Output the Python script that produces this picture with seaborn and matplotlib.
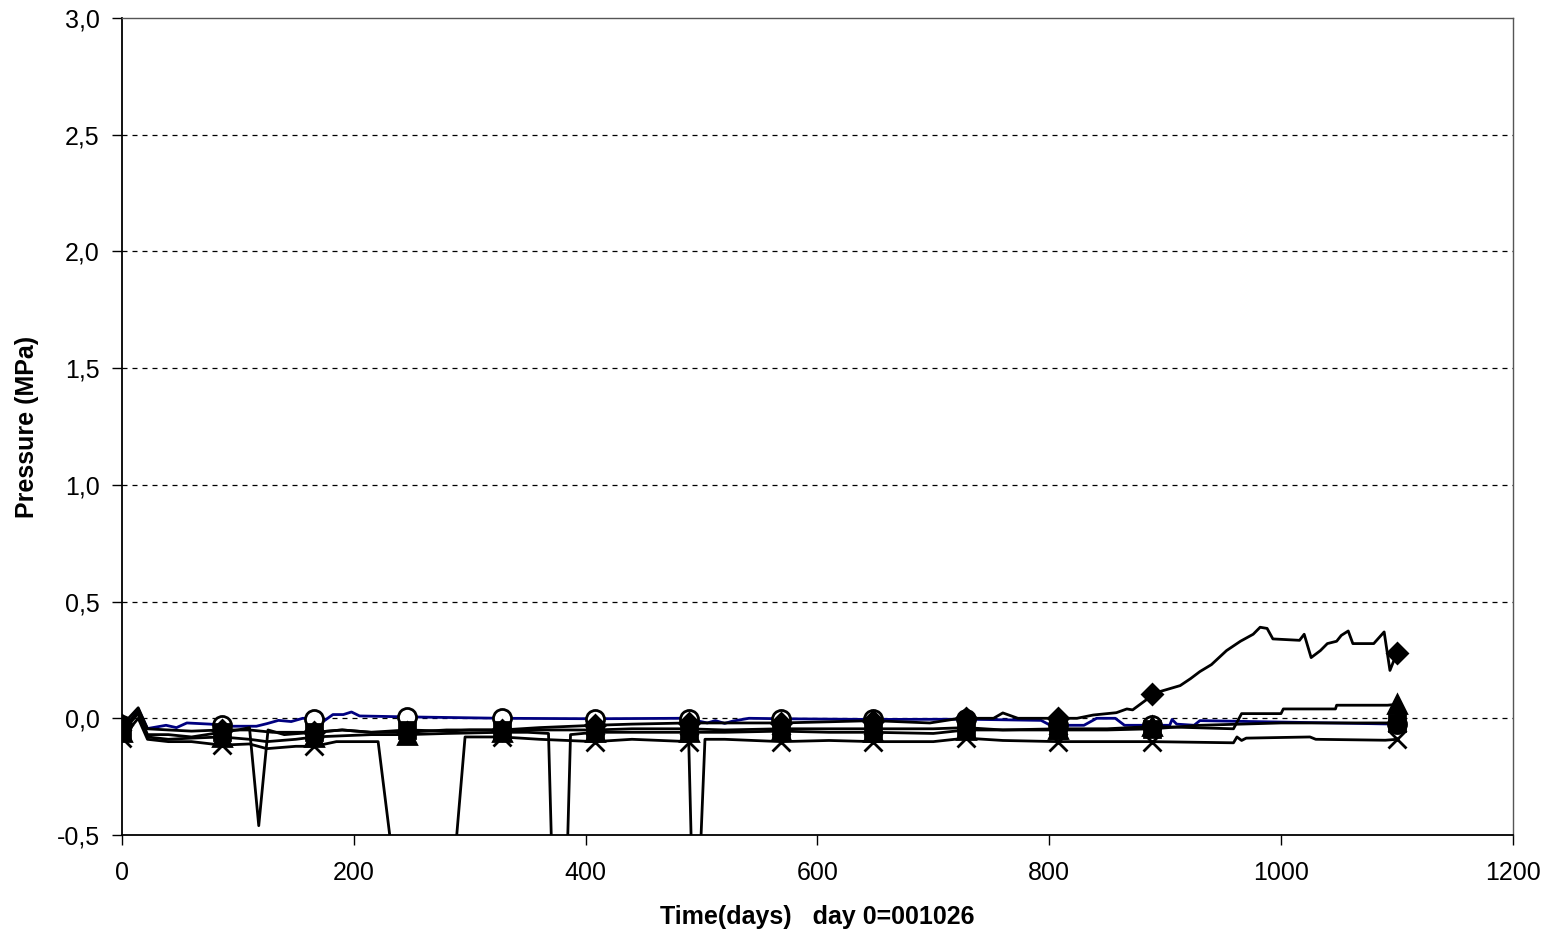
import numpy as np
import pandas as pd
import matplotlib
matplotlib.use("Agg")
import matplotlib.pyplot as plt
import seaborn as sns
from matplotlib.ticker import FuncFormatter

# ---------------- data ----------------
marker_days = [0, 86, 166, 246, 328, 408, 489, 569, 648, 728, 808, 889, 1100]

circle_days = [0, 4, 14, 22, 38, 47, 56, 76, 86, 96, 116, 125, 135, 146, 156, 166, 171, 182, 191, 198,
               205, 246, 328, 408, 481, 489, 505, 512, 520, 527, 541, 569, 648, 728, 793, 801, 808, 830,
               841, 857, 865, 889, 904, 906, 910, 925, 930, 1100]
circle_vals = [-0.03, -0.037, 0.04, -0.044, -0.03, -0.04, -0.02, -0.025, -0.03, -0.034, -0.034, -0.023,
               -0.009, -0.014, 0.0, -0.003, -0.023, 0.016, 0.016, 0.027,
               0.01, 0.006, 0.0, -0.002, 0.0, -0.003, -0.02, -0.01, -0.022, -0.012, 0.0, -0.002, -0.005,
               -0.004, -0.009, -0.03, -0.03, -0.03,
               0.0, 0.0, -0.03, -0.03, -0.03, -0.005, -0.025, -0.03, -0.01, -0.025]

x_days = [0, 14, 22, 40, 60, 86, 110, 125, 150, 166, 185, 221, 236, 282, 296, 328, 360, 408, 440, 489,
          492, 498, 503, 520, 569, 610, 648, 700, 728, 760, 808, 889, 959, 962, 966, 970, 1025, 1030,
          1090, 1100]
x_vals = [-0.085, 0.0, -0.09, -0.1, -0.1, -0.115, -0.11, -0.13, -0.12, -0.12, -0.1, -0.1, -0.7, -0.9,
          -0.08, -0.08, -0.09, -0.1, -0.09, -0.1,
          -0.7, -0.7, -0.09, -0.09, -0.1, -0.095, -0.1, -0.1, -0.085, -0.095, -0.1, -0.1, -0.105, -0.08,
          -0.095, -0.085, -0.08, -0.09, -0.094, -0.09]

tri_days = [0, 14, 22, 40, 60, 86, 110, 125, 150, 166, 190, 215, 246, 280, 328, 350, 368, 372, 383, 387,
            408, 440, 489, 520, 569, 610, 648, 700, 728, 760, 808, 850, 889, 959, 966, 1000, 1002, 1047,
            1048, 1092, 1100]
tri_vals = [-0.06, 0.02, -0.08, -0.09, -0.085, -0.08, -0.09, -0.1, -0.09, -0.08, -0.075, -0.07, -0.07,
            -0.065, -0.06, -0.06, -0.065, -0.8, -0.8, -0.07,
            -0.06, -0.06, -0.06, -0.06, -0.055, -0.06, -0.06, -0.065, -0.05, -0.05, -0.045, -0.045,
            -0.035, -0.045, 0.02, 0.02, 0.04, 0.04,
            0.056, 0.056, 0.06]

sq_days = [0, 14, 22, 40, 60, 86, 100, 110, 118, 126, 140, 166, 190, 215, 246, 280, 300, 328, 360, 408,
           440, 489, 520, 569, 610, 648, 700, 728, 760, 808, 850, 889, 930, 1000, 1050, 1100]
sq_vals = [-0.05, 0.03, -0.07, -0.07, -0.08, -0.06, -0.05, -0.04, -0.46, -0.05, -0.07, -0.06, -0.05,
           -0.06, -0.05, -0.055, -0.05, -0.05, -0.05, -0.05,
           -0.045, -0.045, -0.05, -0.045, -0.045, -0.045, -0.045, -0.04, -0.05, -0.05, -0.05, -0.045,
           -0.03, -0.02, -0.02, -0.02]

dia_days = [0, 14, 22, 40, 60, 86, 110, 130, 150, 166, 190, 215, 246, 280, 328, 360, 408, 440, 489, 520,
            569, 610, 648, 697, 723, 728, 752, 760, 773, 808, 824, 838, 858, 867, 872, 884, 889, 913,
            922, 930, 940, 953, 965, 976, 982, 988, 993, 1016, 1020, 1026, 1034, 1040, 1048, 1052, 1058,
            1062, 1080, 1089, 1094, 1100]
dia_vals = [-0.03, 0.045, -0.045, -0.05, -0.055, -0.05, -0.05, -0.06, -0.06, -0.06, -0.05, -0.06, -0.06,
            -0.05, -0.05, -0.04, -0.03, -0.025, -0.02, -0.02,
            -0.02, -0.015, -0.01, -0.02, 0.0, 0.0, 0.0, 0.023, 0.0, 0.0, 0.0, 0.014, 0.024, 0.04, 0.036,
            0.08, 0.105, 0.14,
            0.17, 0.2, 0.23, 0.29, 0.33, 0.36, 0.39, 0.385, 0.34, 0.334, 0.36, 0.26, 0.29, 0.32, 0.33,
            0.355, 0.374,
            0.32, 0.32, 0.37, 0.205, 0.28]

y_ticks = [-0.5, 0.0, 0.5, 1.0, 1.5, 2.0, 2.5, 3.0]
x_ticks = [0, 200, 400, 600, 800, 1000, 1200]

# ---------------- style ----------------
sns.set_style("white")
plt.rcParams['font.family'] = ['Liberation Sans', 'DejaVu Sans']
plt.rcParams['text.color'] = 'black'
plt.rcParams['axes.labelcolor'] = 'black'
plt.rcParams['xtick.color'] = 'black'
plt.rcParams['ytick.color'] = 'black'

fig = plt.figure(figsize=(15.5, 9.36), dpi=100)
ax = fig.add_axes([0.0787, 0.1079, 0.976 - 0.0787, 0.9808 - 0.1079])

series = [
    ("circle", circle_days, circle_vals, "#000080", "o", "white", 13),
    ("x", x_days, x_vals, "black", "x", "black", 13),
    ("tri", tri_days, tri_vals, "black", "^", "black", 13),
    ("sq", sq_days, sq_vals, "black", "s", "black", 12),
    ("dia", dia_days, dia_vals, "black", "D", "black", 10),
]

for name, d, v, col, mk, mfc, ms in series:
    df = pd.DataFrame({"day": d, "val": v})
    idx = [i for i, dd in enumerate(d) if dd in marker_days]
    sns.lineplot(data=df, x="day", y="val", ax=ax, color=col, linewidth=2.0,
                 estimator=None, sort=False, legend=False)
    ax.plot(np.array(d)[idx], np.array(v)[idx], linestyle="none", marker=mk,
            markersize=ms, markerfacecolor=mfc, markeredgecolor="black",
            markeredgewidth=2.0, zorder=3)

ax.set_xlim(0, 1200)
ax.set_ylim(-0.5, 3.0)
ax.set_xticks(x_ticks)
ax.set_yticks(y_ticks)
fmt = FuncFormatter(lambda val, pos: f"{val:.1f}".replace(".", ","))
ax.yaxis.set_major_formatter(fmt)

for yv in y_ticks[1:-1]:
    ax.axhline(yv, color="black", linestyle=(0, (4, 4)), linewidth=0.9, zorder=1)

for s in ["left", "bottom"]:
    ax.spines[s].set_color("black")
    ax.spines[s].set_linewidth(1.3)
for s in ["top", "right"]:
    ax.spines[s].set_color("#555555")
    ax.spines[s].set_linewidth(1.0)

ax.tick_params(axis="both", which="major", direction="out", length=7, width=1,
               color="black", labelcolor="black", labelsize=18, pad=9, left=True, bottom=True)
ax.tick_params(axis="x", pad=12)

ax.set_xlabel("Time(days)   day 0=001026", fontsize=18, fontweight="bold", labelpad=14, color="black")
ax.set_ylabel("Pressure (MPa)", fontsize=18, fontweight="bold", labelpad=13, color="black")

fig.savefig("out.png", dpi=100)
